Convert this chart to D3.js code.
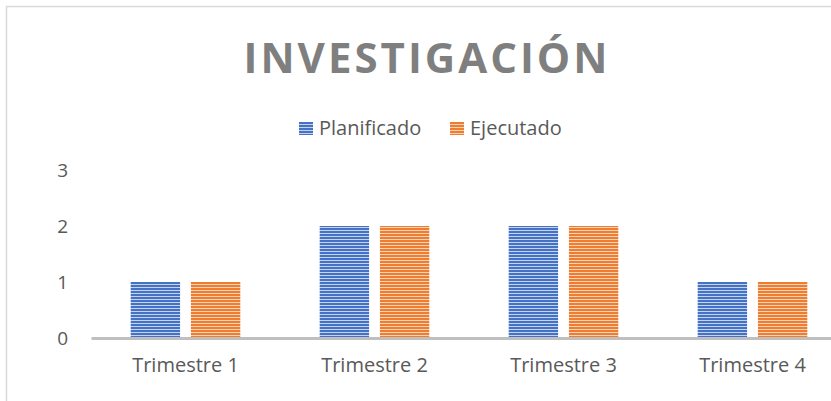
<!DOCTYPE html>
<html>
<head>
<meta charset="utf-8">
<script src="https://cdn.jsdelivr.net/npm/d3@7"></script>
<style>
  body { margin: 0; background: #fff; }
  svg { display: block; font-family: "Open Sans", sans-serif; }
</style>
</head>
<body>
<svg id="chart"></svg>
<script>
// Data
const categories = ["Trimestre 1", "Trimestre 2", "Trimestre 3", "Trimestre 4"];
const seriesNames = ["Planificado", "Ejecutado"];
const planificado = [1, 2, 2, 1];
const ejecutado = [1, 2, 2, 1];
const yTicks = [0, 1, 2, 3];

const seriesValues = [planificado, ejecutado];
const colors = ["#4472c4", "#ed7d31"];
const lightColors = ["#c5d3ee", "#f9d2b8"];

let width = 831;
let height = 401;

let svg = d3.select("#chart")
    .attr("width", width)
    .attr("height", height);

// Stripe patterns
let defs = svg.append("defs");
seriesNames.forEach((s, i) => {
    let p = defs.append("pattern")
        .attr("id", "stripe" + i)
        .attr("patternUnits", "userSpaceOnUse")
        .attr("width", 8)
        .attr("height", 3);
    p.append("rect").attr("width", 8).attr("height", 3).attr("fill", colors[i]);
    p.append("rect").attr("y", 2).attr("width", 8).attr("height", 1).attr("fill", lightColors[i]);
});

// Frame
svg.append("rect")
    .attr("x", 6.5).attr("y", 6.5)
    .attr("width", 900).attr("height", 500)
    .attr("fill", "none")
    .attr("stroke", "#d9d9d9")
    .attr("stroke-width", 1.5);

// Scales
let xScale = d3.scaleBand()
    .domain(categories)
    .range([91, 847])
    .paddingInner(0.42)
    .paddingOuter(0.21);

let xSub = d3.scaleBand()
    .domain(seriesNames)
    .range([0, xScale.bandwidth()])
    .paddingInner(0.18);

let yScale = d3.scaleLinear()
    .domain([0, 3])
    .range([338, 170]);

// Y labels (no axis line)
let yAxis = svg.append("g")
    .attr("transform", "translate(68, 0)")
    .call(d3.axisLeft(yScale).tickValues(yTicks).tickSize(0).tickPadding(0).tickFormat(d3.format("d")));
yAxis.select(".domain").remove();
yAxis.selectAll("text")
    .attr("font-family", "Open Sans, sans-serif")
    .attr("font-size", 19)
    .attr("fill", "#595959");

// Bars
seriesNames.forEach((s, i) => {
    svg.selectAll(".bar" + i)
        .data(seriesValues[i])
        .enter().append("rect")
        .attr("class", "bar" + i)
        .attr("x", (d, j) => xScale(categories[j]) + xSub(s))
        .attr("y", d => yScale(d))
        .attr("width", xSub.bandwidth())
        .attr("height", d => yScale(0) - yScale(d))
        .attr("fill", "url(#stripe" + i + ")");
});

// X axis
let xAxis = svg.append("g")
    .attr("transform", `translate(0, ${yScale(0)})`)
    .call(d3.axisBottom(xScale).tickSize(0).tickPadding(20));
xAxis.select(".domain")
    .attr("stroke", "#bfbfbf")
    .attr("stroke-width", 3);
xAxis.selectAll("text")
    .attr("font-family", "Open Sans, sans-serif")
    .attr("font-size", 20)
    .attr("fill", "#595959");

// Title
svg.append("text")
    .attr("x", 427)
    .attr("y", 73)
    .attr("text-anchor", "middle")
    .attr("font-size", 42)
    .attr("font-weight", "bold")
    .attr("letter-spacing", 3)
    .attr("fill", "#7f7f7f")
    .text("INVESTIGACIÓN");

// Legend
let legendX = [299, 450];
seriesNames.forEach((s, i) => {
    let g = svg.append("g").attr("transform", `translate(${legendX[i]}, 122)`);
    g.append("rect")
        .attr("width", 14).attr("height", 13)
        .attr("fill", "url(#stripe" + i + ")");
    g.append("text")
        .attr("x", 20)
        .attr("y", 13)
        .attr("font-size", 20)
        .attr("fill", "#595959")
        .text(s);
});
</script>
</body>
</html>
